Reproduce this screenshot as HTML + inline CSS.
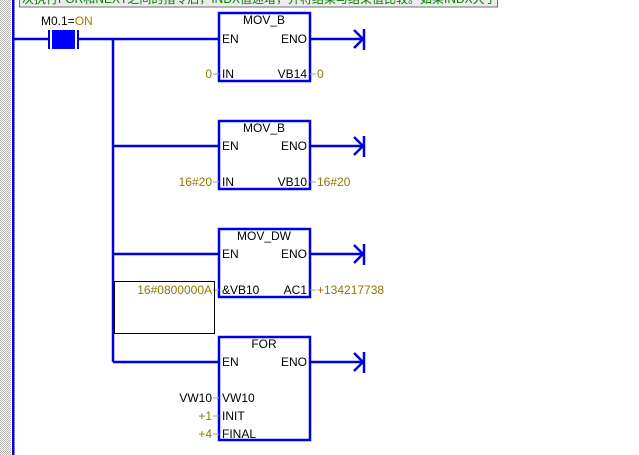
<!DOCTYPE html>
<html><head><meta charset="utf-8"><style>
html,body{margin:0;padding:0;background:#fff;width:639px;height:455px;overflow:hidden}
svg{display:block}
text{font-family:"Liberation Sans","Noto Sans CJK SC",sans-serif;font-size:12px}
</style></head><body>
<svg width="639" height="455" viewBox="0 0 639 455" xmlns="http://www.w3.org/2000/svg">
<defs>
<pattern id="ck" width="2" height="2" patternUnits="userSpaceOnUse">
<rect width="2" height="2" fill="#fff"/><rect width="1" height="1" fill="#b0b0b0"/><rect x="1" y="1" width="1" height="1" fill="#b0b0b0"/>
</pattern>
<clipPath id="bc"><rect x="20" y="-10" width="476" height="16"/></clipPath>
</defs>
<rect x="0" y="0" width="11" height="455" fill="url(#ck)"/>
<rect x="12" y="0" width="2.5" height="455" fill="#0000e0"/>
<!-- banner -->
<rect x="19.5" y="-10" width="478" height="17" fill="#ececec" stroke="#707070" stroke-width="1"/>
<text x="22" y="3" fill="#008000" font-size="13" clip-path="url(#bc)">次执行FOR和NEXT之间的指令后，INDX值递增，并将结果与结束值比较。如果INDX大于结束值，循</text>
<g stroke="#0000e0" stroke-width="2.5" fill="none">
<line x1="14" y1="39" x2="48" y2="39"/>
<line x1="79" y1="39" x2="219" y2="39"/>
<line x1="113" y1="39" x2="113" y2="362"/>
<line x1="113" y1="146" x2="219" y2="146"/>
<line x1="113" y1="254" x2="219" y2="254"/>
<line x1="113" y1="362" x2="219" y2="362"/>
<rect x="219" y="13" width="91" height="68"/>
<rect x="219" y="121" width="91" height="68"/>
<rect x="219" y="229" width="91" height="68"/>
<rect x="219" y="337" width="91" height="103"/>
</g>
<!-- contact -->
<rect x="48" y="30" width="2" height="19" fill="#0000e0"/>
<rect x="77" y="30" width="2" height="19" fill="#0000e0"/>
<rect x="52" y="30" width="23" height="19" fill="#0000ff"/>
<text x="41" y="25" fill="#000">M0.1=<tspan fill="#a08000">ON</tspan></text>
<!-- arrows -->
<g stroke="#0000e0" stroke-width="2.5" fill="none">
<path d="M310 39H363M354 30L363 39L354 48M364 29V50"/>
<path d="M310 146H363M354 137L363 146L354 155M364 136V157"/>
<path d="M310 254H363M354 245L363 254L354 263M364 244V265"/>
<path d="M310 362H363M354 353L363 362L354 371M364 352V373"/>
</g>
<!-- gray ticks -->
<g stroke="#a0a0a0" stroke-width="1">
<line x1="213" y1="74" x2="219" y2="74"/><line x1="310" y1="74" x2="316" y2="74"/>
<line x1="213" y1="182" x2="219" y2="182"/><line x1="310" y1="182" x2="316" y2="182"/>
<line x1="213" y1="290" x2="219" y2="290"/><line x1="310" y1="290" x2="316" y2="290"/>
<line x1="213" y1="398" x2="219" y2="398"/><line x1="213" y1="416" x2="219" y2="416"/><line x1="213" y1="434" x2="219" y2="434"/>
</g>
<rect x="114.5" y="281.5" width="100" height="52" fill="none" stroke="#000" stroke-width="1"/>
<g fill="#000">
<text x="264" y="24" text-anchor="middle">MOV_B</text>
<text x="222" y="43">EN</text><text x="307" y="43" text-anchor="end">ENO</text>
<text x="222" y="78">IN</text><text x="307" y="78" text-anchor="end">VB14</text>
<text x="264" y="132" text-anchor="middle">MOV_B</text>
<text x="222" y="150">EN</text><text x="307" y="150" text-anchor="end">ENO</text>
<text x="222" y="186">IN</text><text x="307" y="186" text-anchor="end">VB10</text>
<text x="264" y="240" text-anchor="middle">MOV_DW</text>
<text x="222" y="258">EN</text><text x="307" y="258" text-anchor="end">ENO</text>
<text x="222" y="294">&amp;VB10</text><text x="307" y="294" text-anchor="end">AC1</text>
<text x="264" y="348" text-anchor="middle">FOR</text>
<text x="222" y="366">EN</text><text x="307" y="366" text-anchor="end">ENO</text>
<text x="222" y="402">VW10</text><text x="222" y="420">INIT</text><text x="222" y="438">FINAL</text>
<text x="212" y="402" text-anchor="end">VW10</text>
</g>
<g fill="#8a7a00">
<text x="212" y="78" text-anchor="end">0</text><text x="317" y="78">0</text>
<text x="212" y="186" text-anchor="end">16#20</text><text x="317" y="186">16#20</text>
<text x="212" y="294" text-anchor="end">16#0800000A</text><text x="317" y="294">+134217738</text>
<text x="212" y="420" text-anchor="end">+1</text><text x="212" y="438" text-anchor="end">+4</text>
</g>
</svg>
</body></html>
